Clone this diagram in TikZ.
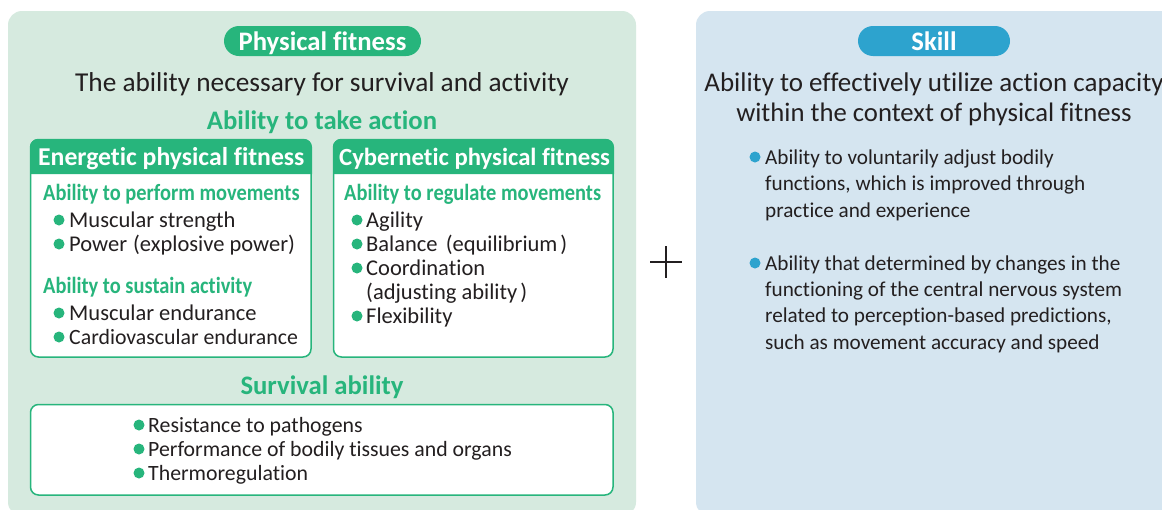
\documentclass[tikz,border=0pt]{standalone}
\usepackage{fontspec}
\setmainfont[Ligatures=NoCommon]{Carlito}
\newfontfamily\condbold[FakeStretch=0.88,Ligatures=NoCommon]{Carlito Bold}
\definecolor{fitgreen}{HTML}{27B57C}
\definecolor{fitpanel}{HTML}{D6EADF}
\definecolor{skillblue}{HTML}{2DA3CE}
\definecolor{skillpanel}{HTML}{D5E5F0}
\definecolor{inkdark}{HTML}{231F20}
\tikzset{
	pilllabel/.style={anchor=base, text=white, inner sep=0pt, font=\fontsize{26.7}{27}\selectfont\bfseries},
	leadtext/.style={anchor=base, text=inkdark, inner sep=0pt, font=\fontsize{27}{27}\selectfont},
	greenhead/.style={anchor=base, text=fitgreen, inner sep=0pt, font=\fontsize{26.7}{27}\selectfont\bfseries},
	boxtitle/.style={anchor=base west, text=white, inner sep=0pt, font=\fontsize{25.7}{26}\selectfont\bfseries},
	subhead/.style={anchor=base west, text=fitgreen, inner sep=0pt, font=\fontsize{23.2}{23}\condbold},
	itemtext/.style={anchor=base west, text=inkdark, inner sep=0pt, font=\fontsize{21.8}{22}\selectfont},
	itemwide/.style={itemtext, font=\fontsize{22.5}{22}\selectfont},
	skilltext/.style={anchor=base west, text=inkdark, inner sep=0pt, font=\fontsize{21.2}{22}\selectfont},
	grndot/.style={circle, fill=fitgreen, inner sep=0pt, minimum size=11pt},
	bludot/.style={circle, fill=skillblue, inner sep=0pt, minimum size=11pt},
	whitebox/.style={draw=fitgreen, fill=white, line width=1.5pt, rounded corners=8pt},
}
\begin{document}
\begin{tikzpicture}[x=1pt,y=-1pt]
	\clip (0,0) rectangle (1162,509);
	\fill[white] (0,0) rectangle (1162,509);
	\fill[fitpanel, rounded corners=14pt] (8,11) rectangle (636,516);
	\fill[skillpanel, rounded corners=14pt] (696,11) rectangle (1190,516);

	% pills
	\fill[fitgreen, rounded corners=15pt] (224,26) rectangle (421,56);
	\fill[skillblue, rounded corners=15pt] (858,26) rectangle (1010,56);
	\node[pilllabel] (fitpill) at (322.5,50) {Physical fitness};
	\node[pilllabel] (skillpill) at (934,50) {Skill};

	\node[leadtext, font=\fontsize{27.3}{27}\selectfont] (fitlead) at (322,91) {The ability necessary for survival and activity};
	\node[greenhead] (takeaction) at (322,129) {Ability to take action};

	% left box
	\draw[whitebox] (30.5,139.5) rectangle (311,357);
	\fill[fitgreen] (30,174) [rounded corners=8pt] -- (30,139) -- (312,139) [sharp corners] -- (312,174) -- cycle;
	\node[boxtitle] (energetic) at (38,165) {Energetic physical fitness};
	\node[subhead] (perform) at (43,200) {Ability to perform movements};
	\node[itemwide] (strength) at (69,227) {Muscular strength};
	\node[itemwide] (power) at (69,251) {Power \kern1pt(explosive power)};
	\node[subhead] (sustain) at (43,293) {Ability to sustain activity};
	\node[itemwide] (muscend) at (69,320) {Muscular endurance};
	\node[itemtext] (cardio) at (69,344) {Cardiovascular endurance};
	\node[grndot] (dota) at (59,220) {};
	\node[grndot] (dotb) at (59,244) {};
	\node[grndot] (dotc) at (59,313) {};
	\node[grndot] (dotd) at (59,337) {};

	% right box
	\draw[whitebox] (333.5,139.5) rectangle (613,357);
	\fill[fitgreen] (333,174) [rounded corners=8pt] -- (333,139) -- (614,139) [sharp corners] -- (614,174) -- cycle;
	\node[boxtitle, font=\fontsize{24.7}{26}\selectfont\bfseries] (cybernetic) at (339,165) {Cybernetic physical fitness};
	\node[subhead] (regulate) at (344,200) {Ability to regulate movements};
	\node[itemwide] (agility) at (366,227) {Agility};
	\node[itemwide] (balance) at (366,251) {Balance \kern3pt(equilibrium\kern3pt)};
	\node[itemwide] (coord) at (366,275) {Coordination};
	\node[itemwide] (adjust) at (366,299) {(adjusting ability\kern3pt)};
	\node[itemwide] (flex) at (366,323) {Flexibility};
	\node[grndot] (dote) at (357,220) {};
	\node[grndot] (dotf) at (357,244) {};
	\node[grndot] (dotg) at (357,268) {};
	\node[grndot] (doth) at (357,316) {};

	% survival
	\node[greenhead] (survival) at (322,394) {Survival ability};
	\draw[whitebox] (30.5,404.5) rectangle (613,495);
	\node[itemtext] (pathogens) at (148,432) {Resistance to pathogens};
	\node[itemtext] (tissues) at (148,456) {Performance of bodily tissues and organs};
	\node[itemtext] (thermo) at (148,480) {Thermoregulation};
	\node[grndot] (doti) at (139,425) {};
	\node[grndot] (dotj) at (139,449) {};
	\node[grndot] (dotk) at (139,473) {};

	% plus
	\draw[inkdark, line width=2.2pt] (650,262) -- (682,262);
	\draw[inkdark, line width=2.2pt] (666,246) -- (666,278);

	% skill side
	\node[leadtext] (skilla) at (934,91) {Ability to effectively utilize action capacity};
	\node[leadtext, font=\fontsize{26.7}{27}\selectfont] (skillb) at (934,121) {within the context of physical fitness};
	\node[skilltext] (voluna) at (765,164) {Ability to voluntarily adjust bodily};
	\node[skilltext] (volunb) at (765,190) {functions, which is improved through};
	\node[skilltext] (volunc) at (765,217) {practice and experience};
	\node[skilltext] (centra) at (765,270) {Ability that determined by changes in the};
	\node[skilltext] (centrb) at (765,296) {functioning of the central nervous system};
	\node[skilltext] (centrc) at (765,322) {related to perception-based predictions,};
	\node[skilltext] (centrd) at (765,349) {such as movement accuracy and speed};
	\node[bludot] (dotl) at (755,157) {};
	\node[bludot] (dotm) at (755,263) {};
\end{tikzpicture}
\end{document}
